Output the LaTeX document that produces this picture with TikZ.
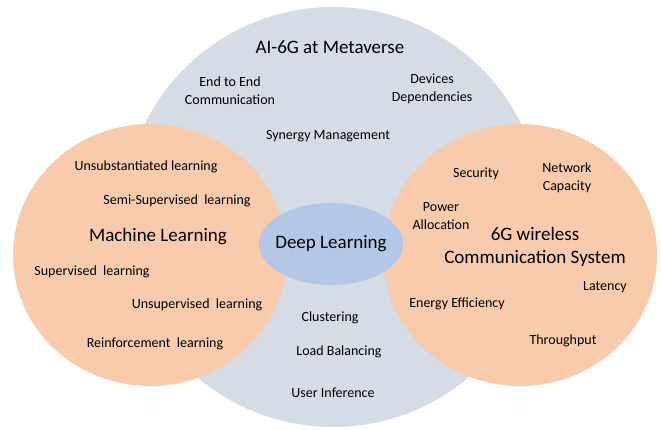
\documentclass[tikz,border=0pt]{standalone}
\usepackage{fontspec}
\setmainfont{Carlito}
\usepackage{xcolor}
\usepackage{tikz}
\usetikzlibrary{shapes.geometric,positioning}

\definecolor{metagray}{HTML}{D6DCE5}
\definecolor{peach}{HTML}{F8CBAD}
\definecolor{deepblue}{HTML}{B4C7E7}

\begin{document}
\begin{tikzpicture}[x=1pt, y=-1pt,
    area/.style={ellipse, inner sep=0pt},
    small/.style={align=center, inner sep=1pt, yshift=-1.5pt, font=\fontsize{14}{18}\selectfont},
    big/.style={align=center, inner sep=1pt, yshift=-1pt, font=\fontsize{19}{23}\selectfont}]
    \useasboundingbox (0,0) rectangle (661,429);

    % Background areas - metaverse circle behind the two fields
    \node [area, fill=metagray, minimum width=420pt, minimum height=420pt] (meta) at (333,217) {};
    \node [area, fill=peach, minimum width=274pt, minimum height=262pt] (ml) at (150,255) {};
    \node [area, fill=peach, minimum width=274pt, minimum height=262pt] (wireless) at (520,255) {};
    \node [area, fill=deepblue, minimum width=144pt, minimum height=82pt] (dl) at (331,244) {};

    % AI-6G at Metaverse labels
    \node [big] (metatitle) at (330,46) {AI-6G at Metaverse};
    \node [small] (e2e) at (230,89) {End to End\\Communication};
    \node [small] (devices) at (432,87) {Devices\\Dependencies};
    \node [small] (synergy) at (328,135) {Synergy Management};
    \node [small] (cluster) at (330,316) {Clustering};
    \node [small] (load) at (339,350) {Load Balancing};
    \node [small] (user) at (333,391) {User Inference};

    % Machine learning labels
    \node [small] (unsub) at (146,165) {Unsubstantiated learning};
    \node [small] (semi) at (177,199) {Semi-Supervised~~learning};
    \node [big] (mltitle) at (158,236) {Machine Learning};
    \node [small] (super) at (92,270) {Supervised~~learning};
    \node [small] (unsup) at (197,303) {Unsupervised~~learning};
    \node [small] (reinf) at (155,342) {Reinforcement~~learning};

    % Deep learning label
    \node [big, yshift=1pt] (dltitle) at (dl) {Deep Learning};

    % 6G wireless labels
    \node [small] (security) at (476,172) {Security};
    \node [small] (capacity) at (567,176) {Network\\Capacity};
    \node [small] (power) at (441,215) {Power\\Allocation};
    \node [big] (wltitle) at (535,246) {6G wireless\\Communication System};
    \node [small] (latency) at (605,286) {Latency};
    \node [small] (energy) at (457,302) {Energy Efficiency};
    \node [small] (through) at (563,339) {Throughput};

\end{tikzpicture}
\end{document}
